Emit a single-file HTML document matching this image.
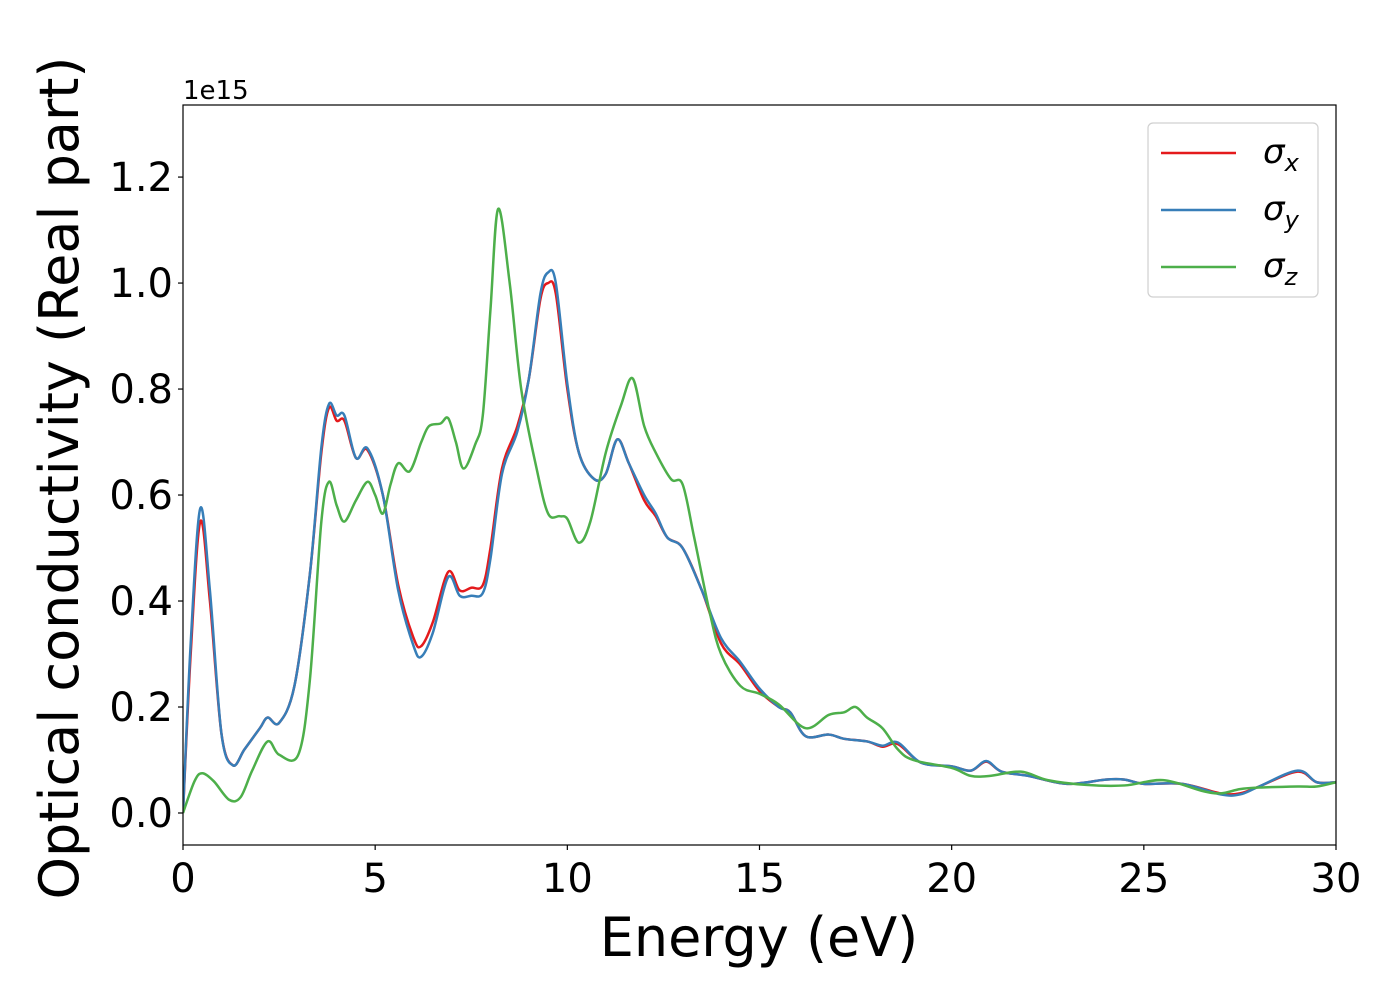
<!DOCTYPE html>
<html><head><meta charset="utf-8"><style>
body{margin:0;background:#fff;}
svg text{font-family:"DejaVu Sans","Liberation Sans",sans-serif;fill:#000;}
</style></head><body>
<svg id="chart" width="1400" height="1000" viewBox="0 0 1400 1000" xmlns="http://www.w3.org/2000/svg">
<g id="plot"></g>
</svg>
<script>
const xTicks=[0,5,10,15,20,25,30];
const yTicks=[0.0,0.2,0.4,0.6,0.8,1.0,1.2];
const xTickLabels=["0","5","10","15","20","25","30"];
const yTickLabels=["0.0","0.2","0.4","0.6","0.8","1.0","1.2"];
const sxE=[0,0.2,0.45,0.7,1.0,1.3,1.6,2.0,2.2,2.5,2.9,3.3,3.6,3.8,4.0,4.2,4.5,4.8,5.2,5.6,6.0,6.2,6.5,6.9,7.2,7.5,7.8,8.0,8.3,8.7,9.0,9.3,9.5,9.7,10.0,10.3,10.7,11.0,11.3,11.6,12.0,12.3,12.6,13.0,13.5,14.0,14.5,15.0,15.5,15.8,16.2,16.8,17.2,17.8,18.2,18.6,19.2,20.0,20.5,20.9,21.3,22,23,24,24.5,25,26,27,27.5,28,29,29.5,30];
const sxV=[0,0.3,0.55,0.4,0.15,0.09,0.12,0.16,0.18,0.17,0.24,0.45,0.68,0.765,0.74,0.74,0.67,0.685,0.6,0.43,0.33,0.315,0.36,0.455,0.42,0.425,0.43,0.5,0.65,0.73,0.82,0.97,1.0,0.98,0.8,0.68,0.63,0.64,0.705,0.66,0.59,0.56,0.52,0.5,0.42,0.32,0.28,0.23,0.2,0.19,0.145,0.148,0.14,0.135,0.125,0.13,0.095,0.088,0.08,0.097,0.078,0.07,0.055,0.063,0.063,0.055,0.055,0.037,0.037,0.05,0.078,0.058,0.058];
const syV=[0,0.32,0.575,0.42,0.15,0.09,0.12,0.16,0.18,0.17,0.24,0.45,0.69,0.772,0.75,0.75,0.67,0.688,0.6,0.42,0.315,0.295,0.34,0.445,0.41,0.41,0.415,0.48,0.64,0.72,0.82,0.98,1.02,1.0,0.81,0.68,0.63,0.64,0.705,0.66,0.6,0.565,0.52,0.5,0.42,0.33,0.285,0.235,0.2,0.19,0.145,0.148,0.14,0.135,0.127,0.133,0.095,0.088,0.08,0.098,0.078,0.07,0.055,0.063,0.063,0.055,0.055,0.035,0.035,0.05,0.08,0.058,0.058];
const szE=[0,0.3,0.5,0.8,1.2,1.5,1.8,2.2,2.5,3.0,3.3,3.6,3.8,4.0,4.2,4.5,4.8,5.0,5.2,5.4,5.6,5.9,6.2,6.4,6.7,6.9,7.1,7.3,7.6,7.8,8.0,8.2,8.5,8.8,9.2,9.5,9.8,10.0,10.3,10.6,11.0,11.4,11.7,12.0,12.3,12.7,13.0,13.3,13.7,14.0,14.5,15.0,15.5,16.2,16.8,17.2,17.5,17.8,18.2,18.6,19,20,20.5,21,21.8,22.5,23.5,24.5,25.5,26.5,27,27.5,28,29,29.5,30];
const szV=[0,0.06,0.075,0.06,0.025,0.03,0.08,0.135,0.11,0.11,0.25,0.55,0.625,0.58,0.55,0.59,0.625,0.6,0.565,0.62,0.66,0.645,0.7,0.73,0.735,0.745,0.7,0.65,0.695,0.75,0.95,1.14,1.0,0.8,0.65,0.565,0.56,0.555,0.51,0.55,0.68,0.77,0.82,0.73,0.68,0.63,0.62,0.52,0.38,0.3,0.24,0.225,0.205,0.16,0.185,0.19,0.2,0.18,0.16,0.12,0.1,0.085,0.07,0.07,0.078,0.062,0.053,0.052,0.062,0.042,0.037,0.045,0.048,0.05,0.05,0.058];

const X0=183,X1=1336,Y0=105,Y1=845;
const xMin=0,xMax=30,yMin=-0.0604,yMax=1.336;
const sx=v=>X0+(v-xMin)/(xMax-xMin)*(X1-X0);
const sy=v=>Y1-(v-yMin)/(yMax-yMin)*(Y1-Y0);
const NS="http://www.w3.org/2000/svg";
const g=document.getElementById('plot');
function mk(t,a,txt){const e=document.createElementNS(NS,t);for(const k in a)e.setAttribute(k,a[k]);if(txt!==undefined)e.textContent=txt;g.appendChild(e);return e;}
function pathD(E,V){const p=E.map((e,i)=>[sx(e),sy(V[i])]);let d=`M${p[0][0]},${p[0][1]}`;
for(let i=0;i<p.length-1;i++){const a=p[Math.max(0,i-1)],b=p[i],c=p[i+1],n=p[Math.min(p.length-1,i+2)];
d+=` C${b[0]+(c[0]-a[0])/6},${b[1]+(c[1]-a[1])/6} ${c[0]-(n[0]-b[0])/6},${c[1]-(n[1]-b[1])/6} ${c[0]},${c[1]}`;}return d;}
const series=[[sxE,sxV,'#e41a1c','sigma-x-line'],[sxE,syV,'#377eb8','sigma-y-line'],[szE,szV,'#4daf4a','sigma-z-line']];
const cp=mk('clipPath',{id:'cp'});const r=document.createElementNS(NS,'rect');r.setAttribute('x',X0);r.setAttribute('y',Y0);r.setAttribute('width',X1-X0);r.setAttribute('height',Y1-Y0);cp.appendChild(r);
series.forEach(s=>{const e=mk('path',{d:pathD(s[0],s[1]),fill:'none',stroke:s[2],'stroke-width':2.5,'clip-path':'url(#cp)'});

});
const fr=mk('rect',{x:X0,y:Y0,width:X1-X0,height:Y1-Y0,fill:'none',stroke:'#000','stroke-width':1.2});


xTicks.forEach((t,i)=>{mk('line',{x1:sx(t),x2:sx(t),y1:Y1,y2:Y1+5,stroke:'#000','stroke-width':1.2});
const e=mk('text',{x:sx(t),y:Y1+47,'text-anchor':'middle','font-size':40},xTickLabels[i]);

});
yTicks.forEach((t,i)=>{mk('line',{x1:X0-5,x2:X0,y1:sy(t),y2:sy(t),stroke:'#000','stroke-width':1.2});
const e=mk('text',{x:X0-10,y:sy(t)+14,'text-anchor':'end','font-size':40},yTickLabels[i]);

});
let e=mk('text',{x:X0,y:99,'font-size':26},'1e15');


e=mk('text',{x:759,y:956,'text-anchor':'middle','font-size':54},'Energy (eV)');


e=mk('text',{x:0,y:0,'text-anchor':'middle','font-size':54,transform:'translate(78,478) rotate(-90)'},'Optical conductivity (Real part)');


const lg=mk('rect',{x:1148,y:123,width:170,height:174,rx:5,fill:'#fff',stroke:'#ccc','stroke-width':1.2,opacity:0.9});


const subs=['x','y','z'];
series.forEach((s,i)=>{const yy=153+i*57;
mk('line',{x1:1161,x2:1236,y1:yy,y2:yy,stroke:s[2],'stroke-width':2.5});
const t=mk('text',{x:1263,y:yy+10,'font-size':34,'font-style':'italic'});


const a=document.createElementNS(NS,'tspan');a.textContent='σ';t.appendChild(a);
const b=document.createElementNS(NS,'tspan');b.setAttribute('font-size','24');b.setAttribute('dy','8');b.textContent=subs[i];t.appendChild(b);});
</script>
</body></html>
